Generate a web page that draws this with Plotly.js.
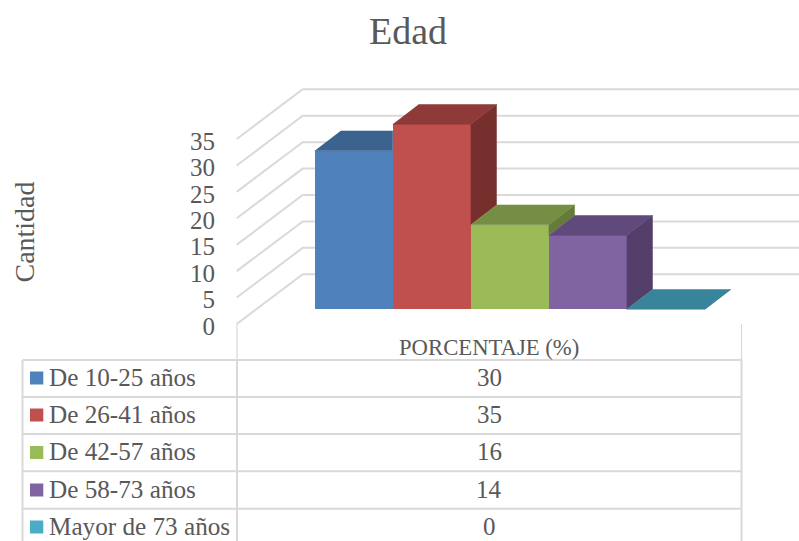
<!DOCTYPE html>
<html>
<head>
<meta charset="utf-8">
<script src="https://cdn.plot.ly/plotly-3.0.1.min.js"></script>
<style>html,body{margin:0;padding:0;background:#fff}#chart{width:799px;height:541px}</style>
</head>
<body>
<div id="chart"></div>
<script>
// ---- data ----
var categories = ['De 10-25 años', 'De 26-41 años', 'De 42-57 años', 'De 58-73 años', 'Mayor de 73 años'];
var values = [30, 35, 16, 14, 0];
var tickValues = [0, 5, 10, 15, 20, 25, 30, 35];
var seriesHeader = 'PORCENTAJE (%)';

// ---- style ----
var frontColors = ['#4F81BD', '#C0504D', '#9BBB59', '#8064A2', '#4BACC6'];
var topColors = ['#3C6290', '#8E3A38', '#758E43', '#60497B', '#37849B'];
var sideColors = ['#335378', '#772F2D', '#657B3A', '#533F69', '#2F6F82'];
var gridColor = '#D9D9D9', textColor = '#595959', fontFam = '"Liberation Serif", serif';

// ---- projection ----
var W = 799, H = 541;
var pxPerUnit = 5.2857, pxPerBar = 78;
var barLeft = 314.7, barBase = 309.3;   // px of bar 0 left edge, value 0
var wallBase = 324;                     // px of value 0 on the front wall edge
var plotH = 464;                        // y axes occupy the top part so the axis title centres on it
var depthX = 25.8 / pxPerBar, depthY = 19.8 / pxPerUnit;
var wallFrontX = (236.7 - barLeft) / pxPerBar, wallBackX = (302.7 - barLeft) / pxPerBar;
var wallRise = 49.7 / pxPerUnit;
var xEnd = (W - barLeft) / pxPerBar;

var traces = [];

// wall grid lines, from the tick values
var gx = [], gy = [];
tickValues.forEach(function (t) {
  gx.push(wallFrontX, wallBackX, xEnd, null);
  gy.push(t, t + wallRise, t + wallRise, null);
});
traces.push({type: 'scatter', mode: 'lines', x: gx, y: gy, xaxis: 'x', yaxis: 'y', cliponaxis: false,
  line: {color: gridColor, width: 2}, hoverinfo: 'skip', showlegend: false});

// front faces
categories.forEach(function (c, i) {
  traces.push({type: 'bar', name: c, x: [i + 0.5], y: [values[i]], width: [1], xaxis: 'x', yaxis: 'y2',
    marker: {color: frontColors[i], line: {width: 0}}, showlegend: false});
});

// top and side faces
function face(xs, ys, color) {
  traces.push({type: 'scatter', mode: 'lines', fill: 'toself', x: xs, y: ys, xaxis: 'x', yaxis: 'y2',
    fillcolor: color, line: {color: color, width: 0.5}, hoverinfo: 'skip', showlegend: false});
}
values.forEach(function (v, i) {
  var next = i + 1 < values.length ? values[i + 1] : 0;
  var hiddenRight = next > v;
  if (!hiddenRight) {
    var low = Math.min(v, next);
    face([i + 1, i + 1 + depthX, i + 1 + depthX, i + 1],
         [v, v + depthY, low + depthY, low], sideColors[i]);
    face([i, i + 1, i + 1 + depthX, i + depthX], [v, v, v + depthY, v + depthY], topColors[i]);
  } else {
    face([i, i + 1, i + 1, i + depthX], [v, v, v + depthY, v + depthY], topColors[i]);
  }
});

// ---- data table ----
var tLeft = 22.5, tMid = 237, tRight = 741.5;
var rowLines = [360, 397, 434, 471.3, 508.7];
var rowCentres = [378, 415, 452.5, 490, 527];
function px(x) { return x / W; }
function py(y) { return 1 - y / H; }
var shapes = [], annotations = [];
function tline(x0, y0, x1, y1, w) {
  shapes.push({type: 'line', xref: 'paper', yref: 'paper', x0: px(x0), x1: px(x1), y0: py(y0), y1: py(y1),
    line: {color: gridColor, width: w}});
}
rowLines.forEach(function (y) { tline(tLeft, y, tRight, y, 2); });
tline(tLeft, 360, tLeft, H, 2);
tline(tMid, 360, tMid, H, 2);
tline(tRight, 360, tRight, H, 2);
tline(tMid, 324, tMid, 360, 1.2);
tline(tRight, 324, tRight, 360, 1.2);

function label(text, x, y, anchor, size) {
  annotations.push({text: text, xref: 'paper', yref: 'paper', x: px(x), y: py(y), xanchor: anchor, yanchor: 'middle',
    showarrow: false, font: {family: fontFam, size: size, color: textColor}, borderpad: 0, borderwidth: 0});
}
label(seriesHeader, 489.5, 347, 'center', 22.7);
categories.forEach(function (c, i) {
  shapes.push({type: 'rect', xref: 'paper', yref: 'paper', x0: px(30), x1: px(43.3),
    y0: py(rowCentres[i] - 6.5), y1: py(rowCentres[i] + 6.5), fillcolor: frontColors[i], line: {width: 0}});
  label(c, 48.5, rowCentres[i] - 0.7, 'left', 25.2);
  label(String(values[i]), 489.5, rowCentres[i] - 0.7, 'center', 25);
});

var layout = {
  width: W, height: H, autosize: false,
  margin: {l: 0, r: 0, t: 0, b: 0, pad: 0},
  paper_bgcolor: '#fff', plot_bgcolor: 'rgba(0,0,0,0)',
  barmode: 'overlay', bargap: 0, showlegend: false,
  title: {text: 'Edad', x: 408 / W, xanchor: 'center', y: py(31), yanchor: 'middle',
    font: {family: fontFam, size: 38, color: textColor}},
  xaxis: {visible: false, range: [-barLeft / pxPerBar, xEnd], fixedrange: true},
  yaxis: {
    domain: [1 - plotH / H, 1], anchor: 'free', position: 215 / W,
    range: [-(plotH - wallBase) / pxPerUnit, wallBase / pxPerUnit],
    tickmode: 'array', tickvals: tickValues, ticktext: tickValues.map(String),
    showgrid: false, zeroline: false, showline: false, ticks: '', fixedrange: true,
    ticklabelshift: 2,
    tickfont: {family: fontFam, size: 25, color: textColor},
    title: {text: 'Cantidad', font: {family: fontFam, size: 28, color: textColor}, standoff: 146}
  },
  yaxis2: {
    overlaying: 'y', visible: false, fixedrange: true,
    range: [-(plotH - barBase) / pxPerUnit, barBase / pxPerUnit]
  },
  shapes: shapes,
  annotations: annotations
};
Plotly.newPlot('chart', traces, layout, {displayModeBar: false, staticPlot: true});
</script>
</body>
</html>
